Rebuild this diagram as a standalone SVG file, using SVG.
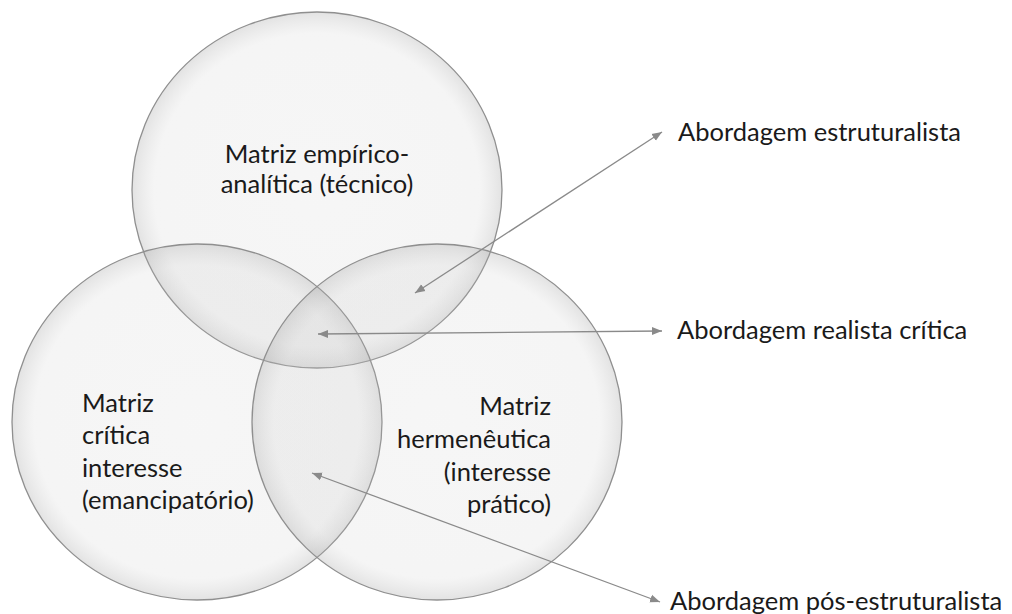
<svg xmlns="http://www.w3.org/2000/svg" width="1012" height="614" viewBox="0 0 1012 614">
<style>
.c{stroke:#8f8f8f;stroke-width:1.3;fill:url(#g)}
.t{font-family:Lato,"Open Sans",sans-serif;font-size:25.5px;fill:#1a1a1a}
.a{stroke:#8a8a8a;stroke-width:1.3;fill:none;marker-start:url(#h);marker-end:url(#h)}
</style>
<defs>
<radialGradient id="g" cx="0.5" cy="0.5" r="0.5">
<stop offset="0" stop-color="#c0c0c0" stop-opacity="0.14"/>
<stop offset="0.88" stop-color="#c0c0c0" stop-opacity="0.16"/>
<stop offset="1" stop-color="#a0a0a0" stop-opacity="0.3"/>
</radialGradient>
<marker id="h" viewBox="0 0 10 10" refX="10" refY="5" markerWidth="10" markerHeight="10" markerUnits="userSpaceOnUse" orient="auto-start-reverse">
<path d="M0,1 L10,5 L0,9 Z" fill="#8a8a8a"/>
</marker>
</defs>
<rect width="1012" height="614" fill="#ffffff"/>
<g id="circle-top"><ellipse class="c" cx="317" cy="190" rx="185" ry="178"/></g>
<g id="circle-left"><ellipse class="c" cx="197" cy="422" rx="185" ry="178"/></g>
<g id="circle-right"><ellipse class="c" cx="437" cy="422" rx="185" ry="178"/></g>
<g id="label-top"><text class="t" x="317" y="163" text-anchor="middle">Matriz empírico-</text><text class="t" x="317" y="193" text-anchor="middle">analítica (técnico)</text></g>
<g id="label-left"><text class="t" x="82" y="412">Matriz</text><text class="t" x="82" y="444">crítica</text><text class="t" x="82" y="477">interesse</text><text class="t" x="82" y="509">(emancipatório)</text></g>
<g id="label-right" text-anchor="end"><text class="t" x="551" y="415">Matriz</text><text class="t" x="551" y="448">hermenêutica</text><text class="t" x="551" y="481">(interesse</text><text class="t" x="551" y="513">prático)</text></g>
<g id="connectors">
<line class="a" x1="415" y1="293" x2="662" y2="132"/>
<line class="a" x1="318" y1="334" x2="662" y2="331"/>
<line class="a" x1="312" y1="473" x2="660" y2="602"/>
</g>
<g id="label-estruturalista"><text class="t" x="678" y="141">Abordagem estruturalista</text></g>
<g id="label-realista"><text class="t" x="677" y="339">Abordagem realista crítica</text></g>
<g id="label-pos"><text class="t" x="670" y="610">Abordagem pós-estruturalista</text></g>
</svg>
